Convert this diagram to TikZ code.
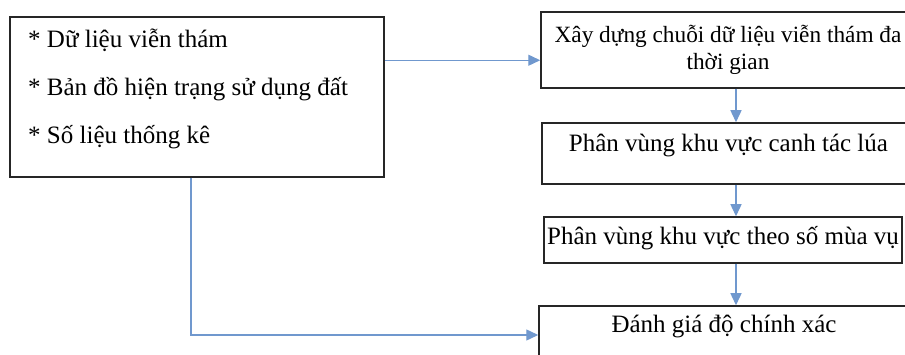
\documentclass[tikz,border=0pt]{standalone}
\usepackage{fontspec}
\setmainfont{Liberation Serif}
\usetikzlibrary{arrows.meta}

\definecolor{linkblue}{RGB}{112,152,206}

\tikzset{
		box/.style={draw=black!85, line width=1.5pt, inner sep=0pt, font=\fontsize{25}{27}\selectfont},
		item/.style={anchor=base west, inner sep=0pt, font=\fontsize{25}{27}\selectfont},
		link/.style={linkblue, line width=1.4pt, -{Triangle[length=12pt,width=11pt]}}
	}

\begin{document}
\begin{tikzpicture}[x=1pt,y=-1pt]
	
	\useasboundingbox (0,0) rectangle (905,355);
	\clip (0,0) rectangle (905,355);
	
	% input data
	\node (data) at (197,97) [box,minimum width=374pt,minimum height=160pt] {};
	\node (item1) at (28,48) [item] {* Dữ liệu viễn thám};
	\node (item2) at (28,96) [item] {* Bản đồ hiện trạng sử dụng đất};
	\node (item3) at (28,144) [item] {* Số liệu thống kê};
	
	% processing chain
	\node (build) at (728,50) [box,minimum width=374pt,minimum height=76pt,align=center,font=\fontsize{23.3}{27}\selectfont] {Xây dựng chuỗi dữ liệu viễn thám đa\\thời gian};
	\node (rice) at (728.5,153.5) [box,minimum width=373pt,text height=29pt,text depth=32pt] {Phân vùng khu vực canh tác lúa};
	\node (season) at (723,240) [box,minimum width=358pt,text height=28pt,text depth=18pt] {Phân vùng khu vực theo số mùa vụ};
	\node (eval) at (724,340.5) [box,minimum width=370pt,text height=27pt,text depth=42pt] {Đánh giá độ chính xác};
	
	\coordinate (spine) at (736,0);
	\coordinate (drop) at (191,335);
	
	\draw [link] ([yshift=-44pt]data.north east) -- ([yshift=-44pt]data.north east -| build.west);
	\draw [link] (build.south -| spine) -- (rice.north -| spine);
	\draw [link] (rice.south -| spine) -- (season.north -| spine);
	\draw [link] (season.south -| spine) -- (eval.north -| spine);
	\draw [link] (data.south -| drop) |- (eval.west |- drop);
	
\end{tikzpicture}
\end{document}
